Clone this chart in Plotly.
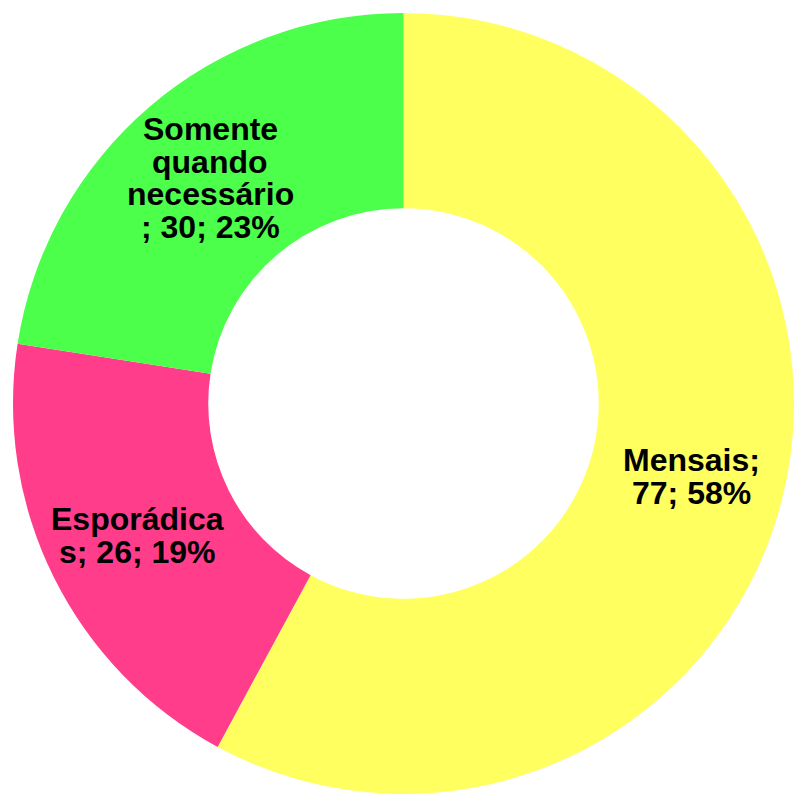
import math
import plotly.graph_objects as go

# Survey answers: how often the service is used
categories = ["Mensais", "Esporádicas", "Somente quando necessário"]
counts = [77, 26, 30]
colors = ["#FFFF5F", "#FF3D8B", "#4BFF4B"]

# Wrapped label lines; "{v}; {p}%" is filled in with count and percent
label_lines = [
    ["Mensais;", "{v}; {p}%"],
    ["Esporádica", "s; {v}; {p}%"],
    ["Somente", "quando", "necessário", "; {v}; {p}%"],
]


def rounded_percents(values):
    """Whole percentages that add up to 100 (largest remainder)."""
    total = sum(values)
    raw = [v * 100 / total for v in values]
    floors = [int(math.floor(r)) for r in raw]
    left = 100 - sum(floors)
    order = sorted(range(len(raw)), key=lambda i: raw[i] - floors[i], reverse=True)
    for i in order[:left]:
        floors[i] += 1
    return floors


percents = rounded_percents(counts)

W, H = 794, 798
ML, MR, MT, MB = 13, 0, 13, 4
HOLE = 0.5
FONT = dict(family="Liberation Sans, Arial, sans-serif", size=32, color="black", weight="bold")
LINE_GAP = 32.5

fig = go.Figure(
    go.Pie(
        labels=categories,
        values=counts,
        hole=HOLE,
        sort=False,
        direction="clockwise",
        rotation=0,
        marker=dict(colors=colors, line=dict(width=0)),
        textinfo="none",
        hoverinfo="label+value+percent",
        showlegend=False,
    )
)

# Place each label block at the middle of its ring segment
pw, ph = W - ML - MR, H - MT - MB
radius = min(pw, ph) / 2
r_text = radius * (1 + HOLE) / 2 + 4
cx, cy = pw / 2, ph / 2  # in plot-area pixels
total = sum(counts)
start = 0.0
annotations = []
for lines, v, p in zip(label_lines, counts, percents):
    frac = v / total
    mid = (start + frac / 2) * 2 * math.pi
    start += frac
    tx = cx + r_text * math.sin(mid)
    ty = cy - r_text * math.cos(mid)
    n = len(lines)
    for i, line in enumerate(lines):
        ly = ty + (i - (n - 1) / 2) * LINE_GAP
        annotations.append(
            dict(
                text=line.format(v=v, p=p),
                x=tx / pw,
                y=1 - ly / ph,
                xref="paper",
                yref="paper",
                xanchor="center",
                yanchor="middle",
                showarrow=False,
                font=FONT,
            )
        )

fig.update_layout(
    width=W,
    height=H,
    margin=dict(l=ML, r=MR, t=MT, b=MB),
    paper_bgcolor="white",
    plot_bgcolor="white",
    annotations=annotations,
)

fig.write_html("out.html")
